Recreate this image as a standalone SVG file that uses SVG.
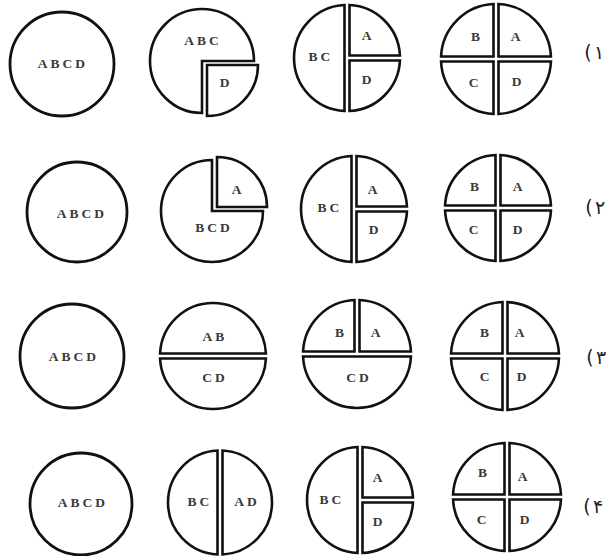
<svg xmlns="http://www.w3.org/2000/svg" width="614" height="556" viewBox="0 0 614 556">
<style>
.c{fill:#fff;stroke:#111;stroke-width:2.8}
.p{fill:#fff;stroke:#111;stroke-width:2.6;stroke-linejoin:miter}
.t{font-family:"Liberation Serif","DejaVu Serif",serif;font-size:13.5px;font-weight:bold;fill:#3a3a3a;text-anchor:middle;letter-spacing:3px}
.n{font-family:"DejaVu Sans","Noto Sans",sans-serif;font-size:19px;fill:#222;text-anchor:middle;direction:ltr}
</style>
<rect width="614" height="556" fill="#fff"/>
<!-- Row 1 -->
<g id="r1c1"><circle class="c" cx="62" cy="64" r="52"/><text class="t" x="63" y="68">ABCD</text></g>
<g id="r1c2">
<path class="p" d="M202,61 L254,61 A52 52 0 1 0 202,113 Z"/>
<path class="p" d="M207,65 L258,65 A51 51 0 0 1 207,116 Z"/>
<text class="t" x="203" y="45">ABC</text><text class="t" x="226" y="87">D</text>
</g>
<g id="r1c3">
<path class="p" d="M344.5,5.06 L344.5,110.94 A53 53 0 0 1 344.5,5.06 Z"/>
<path class="p" d="M349.5,55.5 L349.5,5.06 A53 53 0 0 1 399.94,55.5 Z"/>
<path class="p" d="M349.5,60.5 L399.94,60.5 A53 53 0 0 1 349.5,110.94 Z"/>
<text class="t" x="321" y="61">BC</text><text class="t" x="368" y="40">A</text><text class="t" x="368" y="84">D</text>
</g>
<g id="r1c4">
<path class="p" d="M498.5,56.5 L498.5,4.06 A55 55 0 0 1 550.94,56.5 Z"/>
<path class="p" d="M498.5,61.5 L550.94,61.5 A55 55 0 0 1 498.5,113.94 Z"/>
<path class="p" d="M493.5,61.5 L493.5,113.94 A55 55 0 0 1 441.06,61.5 Z"/>
<path class="p" d="M493.5,56.5 L441.06,56.5 A55 55 0 0 1 493.5,4.06 Z"/>
<text class="t" x="477" y="41">B</text><text class="t" x="517" y="41">A</text><text class="t" x="475" y="87">C</text><text class="t" x="518" y="86">D</text>
</g>
<g id="r1label"><text class="n" x="588" y="59">(</text><text class="n" x="599" y="59">۱</text></g>
<!-- Row 2 -->
<g id="r2c1"><circle class="c" cx="77" cy="212" r="50"/><text class="t" x="82" y="218">ABCD</text></g>
<g id="r2c2">
<path class="p" d="M212,211 L212,160 A51 51 0 1 0 263,211 Z"/>
<path class="p" d="M217,207 L217,157 A50 50 0 0 1 267,207 Z"/>
<text class="t" x="238" y="194">A</text><text class="t" x="214" y="232">BCD</text>
</g>
<g id="r2c3">
<path class="p" d="M351.5,156.06 L351.5,261.94 A53 53 0 0 1 351.5,156.06 Z"/>
<path class="p" d="M356.5,206.5 L356.5,156.06 A53 53 0 0 1 406.94,206.5 Z"/>
<path class="p" d="M356.5,211.5 L406.94,211.5 A53 53 0 0 1 356.5,261.94 Z"/>
<text class="t" x="330" y="212">BC</text><text class="t" x="374" y="194">A</text><text class="t" x="375" y="234">D</text>
</g>
<g id="r2c4">
<path class="p" d="M500.5,205.5 L500.5,155.06 A53 53 0 0 1 550.94,205.5 Z"/>
<path class="p" d="M500.5,210.5 L550.94,210.5 A53 53 0 0 1 500.5,260.94 Z"/>
<path class="p" d="M495.5,210.5 L495.5,260.94 A53 53 0 0 1 445.06,210.5 Z"/>
<path class="p" d="M495.5,205.5 L445.06,205.5 A53 53 0 0 1 495.5,155.06 Z"/>
<text class="t" x="476" y="191">B</text><text class="t" x="519" y="191">A</text><text class="t" x="475" y="234">C</text><text class="t" x="519" y="234">D</text>
</g>
<g id="r2label"><text class="n" x="589" y="214">(</text><text class="n" x="600" y="214">۲</text></g>
<!-- Row 3 -->
<g id="r3c1"><circle class="c" cx="72" cy="356" r="52"/><text class="t" x="74" y="361">ABCD</text></g>
<g id="r3c2">
<path class="p" d="M160.06,353.5 A53 53 0 0 1 265.94,353.5 Z"/>
<path class="p" d="M265.94,358.5 A53 53 0 0 1 160.06,358.5 Z"/>
<text class="t" x="215" y="341">AB</text><text class="t" x="215" y="382">CD</text>
</g>
<g id="r3c3">
<path class="p" d="M354.5,351.5 L303.06,351.5 A54 54 0 0 1 354.5,300.06 Z"/>
<path class="p" d="M359.5,351.5 L359.5,300.06 A54 54 0 0 1 410.94,351.5 Z"/>
<path class="p" d="M410.94,356.5 A54 54 0 0 1 303.06,356.5 Z"/>
<text class="t" x="341" y="337">B</text><text class="t" x="377" y="337">A</text><text class="t" x="359" y="382">CD</text>
</g>
<g id="r3c4">
<path class="p" d="M507.5,353.5 L507.5,302.06 A54 54 0 0 1 558.94,353.5 Z"/>
<path class="p" d="M507.5,358.5 L558.94,358.5 A54 54 0 0 1 507.5,409.94 Z"/>
<path class="p" d="M502.5,358.5 L502.5,409.94 A54 54 0 0 1 451.06,358.5 Z"/>
<path class="p" d="M502.5,353.5 L451.06,353.5 A54 54 0 0 1 502.5,302.06 Z"/>
<text class="t" x="486" y="337">B</text><text class="t" x="521" y="337">A</text><text class="t" x="486" y="381">C</text><text class="t" x="523" y="381">D</text>
</g>
<g id="r3label"><text class="n" x="590" y="364">(</text><text class="n" x="601" y="364">۳</text></g>
<!-- Row 4 -->
<g id="r4c1"><circle class="c" cx="81" cy="504" r="51"/><text class="t" x="83" y="507">ABCD</text></g>
<g id="r4c2">
<path class="p" d="M217.5,450.56 L217.5,554.44 A52 52 0 0 1 217.5,450.56 Z"/>
<path class="p" d="M222.5,554.44 L222.5,450.56 A52 52 0 0 1 222.5,554.44 Z"/>
<text class="t" x="200" y="506">BC</text><text class="t" x="247" y="506">AD</text>
</g>
<g id="r4c3">
<path class="p" d="M357.5,447.06 L357.5,552.94 A53 53 0 0 1 357.5,447.06 Z"/>
<path class="p" d="M362.5,497.5 L362.5,447.06 A53 53 0 0 1 412.94,497.5 Z"/>
<path class="p" d="M362.5,502.5 L412.94,502.5 A53 53 0 0 1 362.5,552.94 Z"/>
<text class="t" x="332" y="504">BC</text><text class="t" x="379" y="482">A</text><text class="t" x="379" y="526">D</text>
</g>
<g id="r4c4">
<path class="p" d="M509.5,494.5 L509.5,443.06 A54 54 0 0 1 560.94,494.5 Z"/>
<path class="p" d="M509.5,499.5 L560.94,499.5 A54 54 0 0 1 509.5,550.94 Z"/>
<path class="p" d="M504.5,499.5 L504.5,550.94 A54 54 0 0 1 453.06,499.5 Z"/>
<path class="p" d="M504.5,494.5 L453.06,494.5 A54 54 0 0 1 504.5,443.06 Z"/>
<text class="t" x="484" y="477">B</text><text class="t" x="524" y="481">A</text><text class="t" x="483" y="524">C</text><text class="t" x="526" y="524">D</text>
</g>
<g id="r4label"><text class="n" x="587" y="513">(</text><text class="n" x="598" y="513">۴</text></g>
<g id="connectors"/>
</svg>
